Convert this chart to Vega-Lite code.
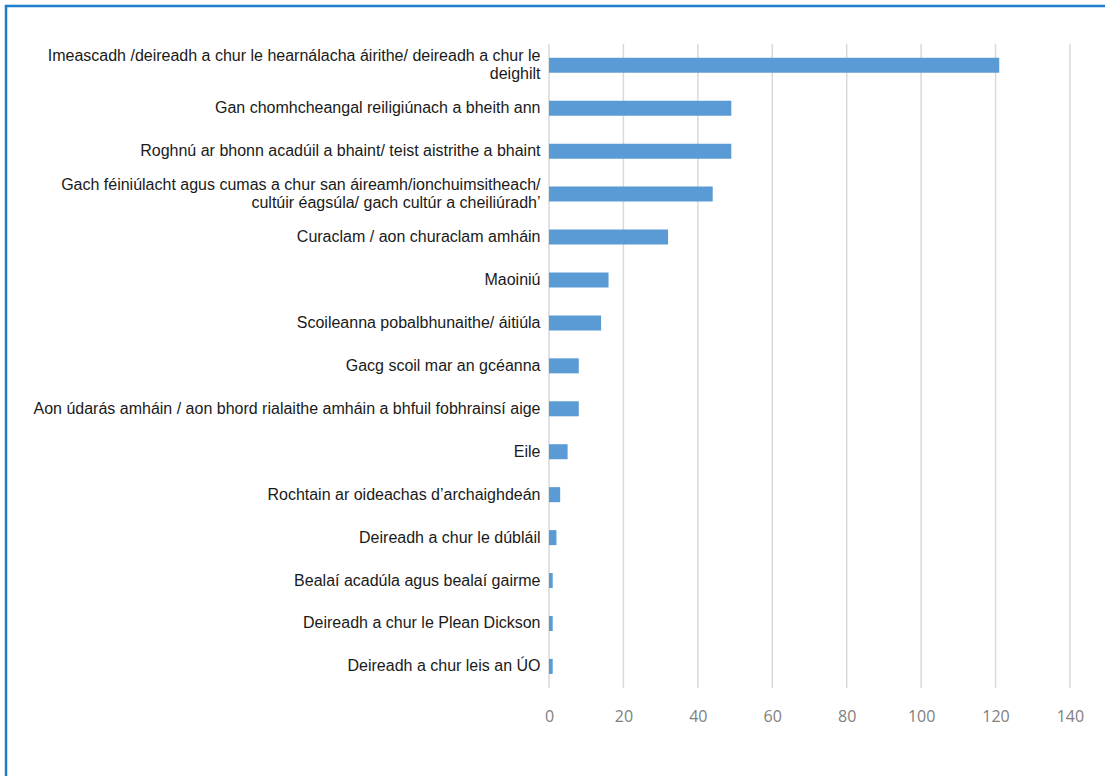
{
  "$schema": "https://vega.github.io/schema/vega-lite/v6.json",
  "width": 1101,
  "height": 772,
  "autosize": {"type": "none"},
  "padding": {"left": 6, "top": 6, "right": 0, "bottom": 0},
  "background": "white",
  "config": {"view": {"stroke": "#1f7dcc", "strokeWidth": 2.5, "fill": "white"}},
  "datasets": {
    "answers": [
      {"label": "Imeascadh /deireadh a chur le hearnálacha áirithe/ deireadh a chur le\ndeighilt", "value": 121},
      {"label": "Gan chomhcheangal reiligiúnach a bheith ann", "value": 49},
      {"label": "Roghnú ar bhonn acadúil a bhaint/ teist aistrithe a bhaint", "value": 49},
      {"label": "Gach féiniúlacht agus cumas a chur san áireamh/ionchuimsitheach/\ncultúir éagsúla/ gach cultúr a cheiliúradh’", "value": 44},
      {"label": "Curaclam / aon churaclam amháin", "value": 32},
      {"label": "Maoiniú", "value": 16},
      {"label": "Scoileanna pobalbhunaithe/ áitiúla", "value": 14},
      {"label": "Gacg scoil mar an gcéanna", "value": 8},
      {"label": "Aon údarás amháin / aon bhord rialaithe amháin a bhfuil fobhrainsí aige", "value": 8},
      {"label": "Eile", "value": 5},
      {"label": "Rochtain ar oideachas d’archaighdeán", "value": 3},
      {"label": "Deireadh a chur le dúbláil", "value": 2},
      {"label": "Bealaí acadúla agus bealaí gairme", "value": 1},
      {"label": "Deireadh a chur le Plean Dickson", "value": 1},
      {"label": "Deireadh a chur leis an ÚO", "value": 1}
    ],
    "grid": [{"g": 0}, {"g": 20}, {"g": 40}, {"g": 60}, {"g": 80}, {"g": 100}, {"g": 120}, {"g": 140}]
  },
  "layer": [
    {
      "data": {"name": "grid"},
      "mark": {"type": "rule", "color": "#d9d9d9", "strokeWidth": 1.5, "yOffset": -21.47, "y2Offset": 21.47},
      "encoding": {
        "x": {
          "field": "g", "type": "quantitative",
          "scale": {"domain": [-145.93, 149.96], "nice": false, "zero": false},
          "axis": {"values": [0, 20, 40, 60, 80, 100, 120, 140], "grid": false, "domain": false, "ticks": false, "tickSize": 0, "labelPadding": 0, "offset": -62, "labelBaseline": "middle", "labelFont": "Open Sans", "labelFontSize": 16, "labelColor": "#808080", "title": null, "labelFlush": false, "labelOverlap": false}
        },
        "y": {"datum": "Imeascadh /deireadh a chur le hearnálacha áirithe/ deireadh a chur le\ndeighilt", "type": "nominal"},
        "y2": {"datum": "Deireadh a chur leis an ÚO"}
      }
    },
    {
      "data": {"name": "answers"},
      "mark": {"type": "bar", "color": "#5B9BD5"},
      "encoding": {
        "x": {
          "field": "value", "type": "quantitative",
          "scale": {"domain": [-145.93, 149.96], "nice": false, "zero": false},
          "axis": {"values": [0, 20, 40, 60, 80, 100, 120, 140], "grid": false, "domain": false, "ticks": false, "tickSize": 0, "labelPadding": 0, "offset": -62, "labelBaseline": "middle", "labelFont": "Open Sans", "labelFontSize": 16, "labelColor": "#808080", "title": null, "labelFlush": false, "labelOverlap": false}
        },
        "y": {
          "field": "label", "type": "nominal", "sort": null,
          "scale": {
            "domain": [
              "Imeascadh /deireadh a chur le hearnálacha áirithe/ deireadh a chur le\ndeighilt",
              "Gan chomhcheangal reiligiúnach a bheith ann",
              "Roghnú ar bhonn acadúil a bhaint/ teist aistrithe a bhaint",
              "Gach féiniúlacht agus cumas a chur san áireamh/ionchuimsitheach/\ncultúir éagsúla/ gach cultúr a cheiliúradh’",
              "Curaclam / aon churaclam amháin",
              "Maoiniú",
              "Scoileanna pobalbhunaithe/ áitiúla",
              "Gacg scoil mar an gcéanna",
              "Aon údarás amháin / aon bhord rialaithe amháin a bhfuil fobhrainsí aige",
              "Eile",
              "Rochtain ar oideachas d’archaighdeán",
              "Deireadh a chur le dúbláil",
              "Bealaí acadúla agus bealaí gairme",
              "Deireadh a chur le Plean Dickson",
              "Deireadh a chur leis an ÚO"
            ],
            "range": [37.8, 681.9],
            "paddingInner": 0.65, "paddingOuter": 0.325, "round": false
          },
          "axis": {"orient": "left", "offset": -534, "domain": false, "ticks": false, "tickSize": 0, "labelPadding": 0, "labelAlign": "right", "labelBaseline": "middle", "labelLimit": 0, "labelFont": "Liberation Sans", "labelFontSize": 16, "labelColor": "#1a1a1a", "labelLineHeight": 18, "title": null, "grid": false, "labelExpr": "split(datum.label, '\\n')", "labelOffset": {"condition": {"test": "indexof(datum.value, '\\n') >= 0", "value": -9}, "value": 0}}
        }
      }
    }
  ]
}
